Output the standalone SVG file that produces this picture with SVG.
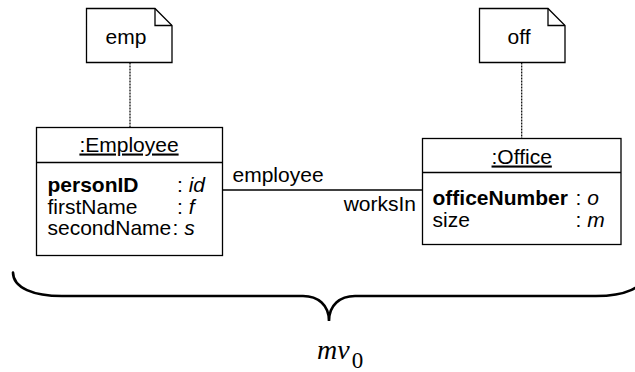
<svg xmlns="http://www.w3.org/2000/svg" width="635" height="372" viewBox="0 0 635 372">
  <style>
    .box { fill: #ffffff; stroke: #000000; stroke-width: 1.3; }
    .rule { stroke: #000000; stroke-width: 1.3; fill: none; }
    .dash { stroke: #000000; stroke-width: 1.2; stroke-dasharray: 2 1; fill: none; }
    .brace { stroke: #000000; stroke-width: 2.6; fill: none; stroke-linecap: round; }
    text { font-family: "Liberation Sans", Arial, Helvetica, sans-serif; font-size: 21px; fill: #000000; }
    .title { text-anchor: middle; text-decoration: underline; }
    .key { font-weight: bold; }
    .val { font-style: italic; }
    .math { font-family: "Liberation Serif", "Times New Roman", serif; font-size: 28px; font-style: italic; }
  </style>
  <rect width="635" height="372" fill="#ffffff"/>

  <!-- connectors: note anchors and the association -->
  <g id="connectors">
    <line class="dash" x1="130" y1="62.5" x2="130" y2="127.5"/>
    <line class="dash" x1="521.7" y1="62.5" x2="521.7" y2="138.5"/>
    <line class="rule" x1="222.5" y1="190" x2="422.5" y2="190"/>
    <text x="232.5" y="181.5">employee</text>
    <text x="416" y="211" text-anchor="end">worksIn</text>
  </g>

  <!-- note "emp" -->
  <g id="note-emp">
    <path class="box" d="M86.5 8.5 H155 L172 25.5 V62.5 H86.5 Z"/>
    <path class="rule" d="M155 8.5 V25.5 H172"/>
    <text x="126" y="44" text-anchor="middle">emp</text>
  </g>

  <!-- note "off" -->
  <g id="note-off">
    <path class="box" d="M479.5 8.5 H548 L565 25.5 V62.5 H479.5 Z"/>
    <path class="rule" d="M548 8.5 V25.5 H565"/>
    <text x="519" y="43.5" text-anchor="middle">off</text>
  </g>

  <!-- object :Employee -->
  <g id="employee">
    <rect class="box" x="36.5" y="127.5" width="186" height="128"/>
    <line class="rule" x1="36.5" y1="162.5" x2="222.5" y2="162.5"/>
    <text class="title" x="129" y="151.5">:Employee</text>
    <text class="key" x="47.5" y="192">personID</text>
    <text x="177" y="192">: <tspan class="val">id</tspan></text>
    <text x="47.5" y="213.5">firstName</text>
    <text x="177" y="213.5">: <tspan class="val">f</tspan></text>
    <text x="47.5" y="235">secondName</text>
    <text x="172.5" y="235">: <tspan class="val">s</tspan></text>
  </g>

  <!-- object :Office -->
  <g id="office">
    <rect class="box" x="422.5" y="138.5" width="198.5" height="106"/>
    <line class="rule" x1="422.5" y1="172.5" x2="621" y2="172.5"/>
    <text class="title" x="521.7" y="163.5">:Office</text>
    <text class="key" x="432.5" y="204.5">officeNumber</text>
    <text x="575.5" y="204.5">: <tspan class="val">o</tspan></text>
    <text x="432.5" y="226.5">size</text>
    <text x="575.5" y="226.5">: <tspan class="val">m</tspan></text>
  </g>

  <!-- brace grouping both objects -->
  <g id="model-view">
    <path class="brace" d="M13 272.5 C13 288, 34 296, 62 296 L303 296 C318 296, 329 305, 329 321 C329 305, 340 296, 355 296 L596 296 C624 296, 645 288, 645 272.5"/>
    <text class="math" x="317" y="359">mv<tspan font-style="normal" font-size="23" dx="2" dy="9">0</tspan></text>
  </g>
</svg>
